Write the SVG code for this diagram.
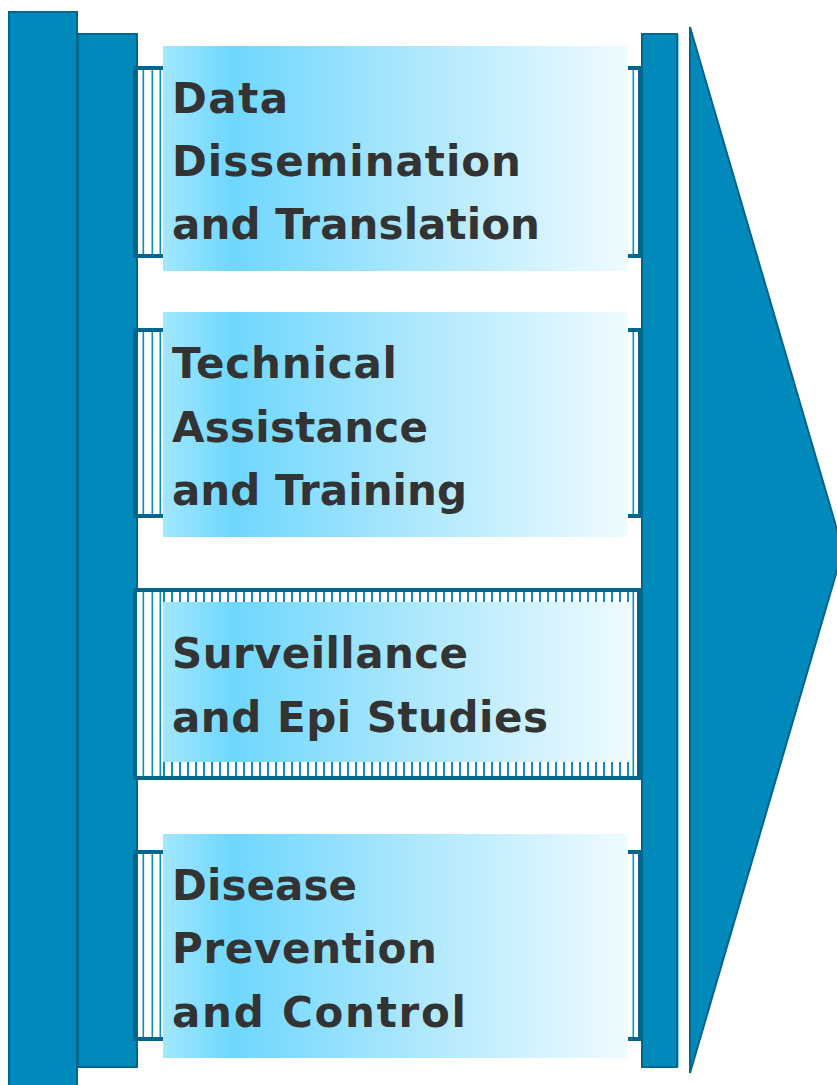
<svg xmlns="http://www.w3.org/2000/svg" width="837" height="1085" viewBox="0 0 837 1085">
<defs>
<linearGradient id="g" x1="0" y1="0" x2="1" y2="0">
<stop offset="0" stop-color="#a2e7ff"/>
<stop offset="0.15" stop-color="#6fd7fd"/>
<stop offset="0.55" stop-color="#aee8fd"/>
<stop offset="1" stop-color="#effbff"/>
</linearGradient>
<pattern id="vs" x="0" y="0" width="8" height="10" patternUnits="userSpaceOnUse">
<rect x="3" y="0" width="2" height="10" fill="#0a8fc0"/>
</pattern>
<style>
.bar{fill:#0089ba;stroke:#00668c;stroke-width:2}
.frame{fill:#00668c}
.st{fill:#0a8fc0}
.box{fill:url(#g)}
.t{font-family:"DejaVu Sans","Open Sans","Liberation Sans",sans-serif;font-weight:bold;font-size:42px;fill:#333333;font-variant-ligatures:none}
</style>
</defs>
<rect width="837" height="1085" fill="#ffffff"/>
<g id="bars">
<rect class="bar" x="9" y="12" width="68" height="1080"/>
<rect class="bar" x="78" y="34" width="59" height="1033"/>
<rect class="bar" x="642" y="34" width="35" height="1033"/>
<line x1="678.5" y1="34" x2="678.5" y2="1067" stroke="#8fd0e8" stroke-width="1"/>
<polygon class="bar" points="690,27 843,550 690,1073"/>
</g>
<g id="box1">
<rect class="frame" x="133" y="66" width="30" height="4"/>
<rect class="frame" x="133" y="254" width="30" height="4"/>
<rect class="frame" x="133" y="66" width="4" height="192"/>
<rect class="st" x="142.5" y="70" width="1.6" height="184"/>
<rect class="st" x="151.5" y="70" width="1.6" height="184"/>
<rect class="st" x="159.5" y="70" width="1.6" height="184"/>
<rect class="frame" x="628" y="66" width="13" height="4"/>
<rect class="frame" x="628" y="254" width="13" height="4"/>
<rect class="frame" x="638" y="66" width="3" height="192"/>
<rect class="st" x="632.5" y="70" width="1.6" height="184"/>
<rect class="box" x="163" y="46" width="465" height="225"/>
<text class="t" x="172" y="113" textLength="116">Data</text>
<text class="t" x="172" y="176" textLength="349">Dissemination</text>
<text class="t" x="172" y="239" textLength="368">and Translation</text>
</g>
<g id="box2">
<rect class="frame" x="133" y="328" width="30" height="4"/>
<rect class="frame" x="133" y="514" width="30" height="4"/>
<rect class="frame" x="133" y="328" width="4" height="190"/>
<rect class="st" x="142.5" y="332" width="1.6" height="182"/>
<rect class="st" x="151.5" y="332" width="1.6" height="182"/>
<rect class="st" x="159.5" y="332" width="1.6" height="182"/>
<rect class="frame" x="628" y="328" width="13" height="4"/>
<rect class="frame" x="628" y="514" width="13" height="4"/>
<rect class="frame" x="638" y="328" width="3" height="190"/>
<rect class="st" x="632.5" y="332" width="1.6" height="182"/>
<rect class="box" x="163" y="312" width="465" height="225"/>
<text class="t" x="172" y="378" textLength="225">Technical</text>
<text class="t" x="172" y="442" textLength="256">Assistance</text>
<text class="t" x="172" y="505" textLength="295">and Training</text>
</g>
<g id="box3">
<rect x="135" y="590" width="504" height="188" fill="#ffffff" stroke="#00668c" stroke-width="4"/>
<rect x="163" y="592" width="469" height="10" fill="url(#vs)"/>
<rect x="163" y="762" width="469" height="14" fill="url(#vs)"/>
<rect class="st" x="142.5" y="592" width="1.6" height="184"/>
<rect class="st" x="151.5" y="592" width="1.6" height="184"/>
<rect class="st" x="159.5" y="592" width="1.6" height="184"/>
<rect class="st" x="632.5" y="592" width="1.6" height="184"/>
<rect class="box" x="163" y="602" width="469" height="160"/>
<text class="t" x="172" y="668" textLength="296">Surveillance</text>
<text class="t" x="172" y="732" textLength="376">and Epi Studies</text>
</g>
<g id="box4">
<rect class="frame" x="133" y="850" width="30" height="4"/>
<rect class="frame" x="133" y="1037" width="30" height="4"/>
<rect class="frame" x="133" y="850" width="4" height="191"/>
<rect class="st" x="142.5" y="854" width="1.6" height="183"/>
<rect class="st" x="151.5" y="854" width="1.6" height="183"/>
<rect class="st" x="159.5" y="854" width="1.6" height="183"/>
<rect class="frame" x="628" y="850" width="13" height="4"/>
<rect class="frame" x="628" y="1037" width="13" height="4"/>
<rect class="frame" x="638" y="850" width="3" height="191"/>
<rect class="st" x="632.5" y="854" width="1.6" height="183"/>
<rect class="box" x="163" y="834" width="465" height="224"/>
<text class="t" x="172" y="900" textLength="185">Disease</text>
<text class="t" x="172" y="963" textLength="265">Prevention</text>
<text class="t" x="172" y="1027" textLength="294">and Control</text>
</g>
<g id="connectors"/>
</svg>
